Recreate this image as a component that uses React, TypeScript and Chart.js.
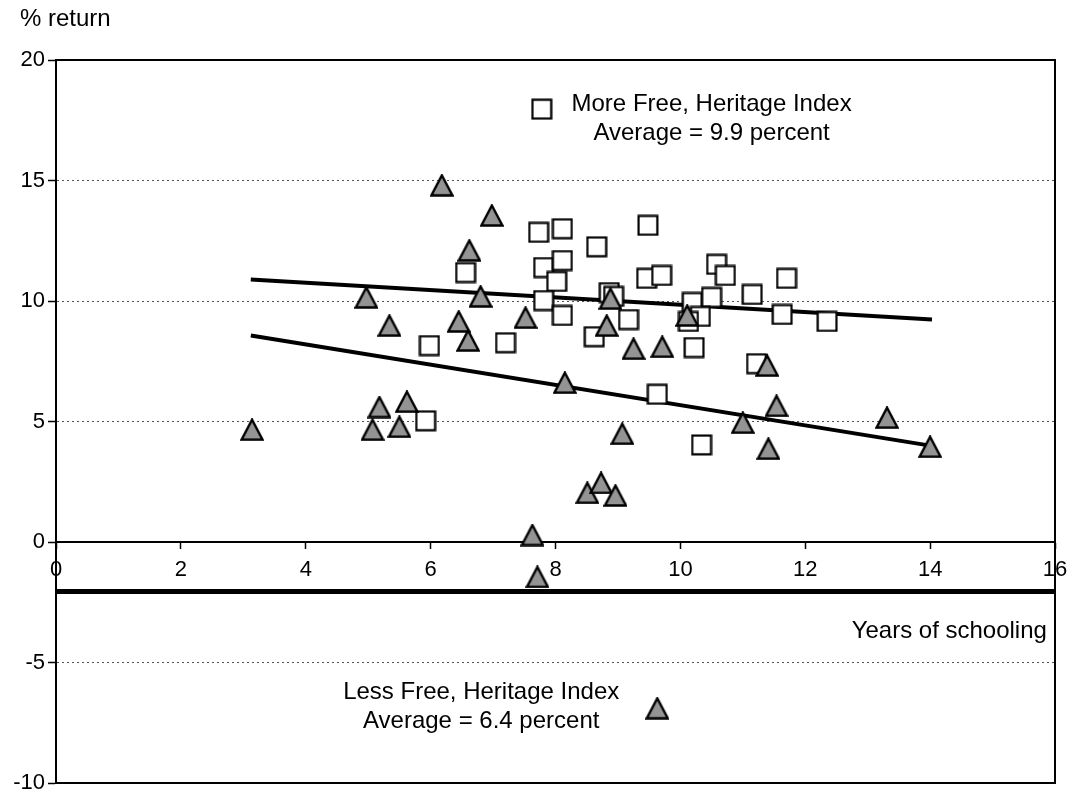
import React, { useEffect, useRef } from "react";
import { Chart, registerables } from "chart.js";

Chart.register(...registerables);

// ---- Data ----
const MORE_FREE_X = [7.73, 8.11, 8.66, 9.48, 6.56, 7.81, 8.11, 8.02, 9.46, 9.7, 7.81, 8.11, 8.86, 8.93, 9.17, 8.62, 7.2, 9.63, 10.19, 10.58, 10.72, 11.7, 10.5, 11.15, 10.32, 10.13, 11.63, 12.35, 10.22, 11.22, 10.34, 5.98, 5.92];
const MORE_FREE_Y = [12.85, 13.0, 12.25, 13.14, 11.18, 11.39, 11.68, 10.81, 10.94, 11.06, 10.02, 9.4, 10.35, 10.19, 9.23, 8.52, 8.27, 6.13, 9.94, 11.52, 11.06, 10.94, 10.15, 10.27, 9.36, 9.15, 9.44, 9.15, 8.07, 7.4, 4.03, 8.15, 5.03];

const LESS_FREE_X = [3.14, 4.97, 5.07, 5.18, 5.34, 5.5, 5.62, 6.18, 6.45, 6.6, 6.62, 6.8, 6.98, 7.52, 7.63, 7.71, 8.15, 8.51, 8.73, 8.82, 8.88, 8.96, 9.07, 9.25, 9.71, 10.11, 11.0, 11.39, 11.41, 11.54, 13.31, 14.0];
const LESS_FREE_Y = [4.66, 10.15, 4.66, 5.6, 8.98, 4.78, 5.82, 14.8, 9.15, 8.36, 12.1, 10.19, 13.55, 9.31, 0.29, -1.45, 6.61, 2.04, 2.45, 8.98, 10.1, 1.93, 4.49, 8.02, 8.1, 9.4, 4.95, 7.32, 3.87, 5.65, 5.16, 3.95];

const TREND_MORE_X = [3.12, 14.03];
const TREND_MORE_Y = [10.89, 9.23];
const TREND_LESS_X = [3.12, 14.0];
const TREND_LESS_Y = [8.57, 4.0];

const BASE_LINE_X = [0, 16];
const BASE_LINE_Y = [-2.05, -2.05];

const X_MIN = 0, X_MAX = 16, X_STEP = 2;
const Y_MIN = -10, Y_MAX = 20, Y_STEP = 5;
const Y_GRID_VALUES = [15, 10, 5, -5];

const MORE_LABEL = ["More Free, Heritage Index", "Average = 9.9 percent"];
const MORE_LABEL_AT = [10.5, 17.55];
const MORE_KEY_AT = [7.78, 17.96];
const LESS_LABEL = ["Less Free, Heritage Index", "Average = 6.4 percent"];
const LESS_LABEL_AT = [6.81, -6.85];
const LESS_KEY_AT = [9.63, -6.9];
const X_TITLE = "Years of schooling";
const X_TITLE_AT = [15.87, -3.69];
const Y_TITLE = "% return";

const FONT = "'Liberation Sans', Arial, Helvetica, sans-serif";

function zip(xs: number[], ys: number[]) {
  return xs.map((x, i) => ({ x, y: ys[i] }));
}

function makeTriangle(): HTMLCanvasElement {
  const c = document.createElement("canvas");
  c.width = 24;
  c.height = 23;
  const g = c.getContext("2d")!;
  g.beginPath();
  g.moveTo(12, 1.5);
  g.lineTo(22.5, 21.5);
  g.lineTo(1.5, 21.5);
  g.closePath();
  g.fillStyle = "#949494";
  g.fill();
  g.lineWidth = 2.4;
  g.strokeStyle = "#000";
  g.lineJoin = "miter";
  g.stroke();
  return c;
}

function makeSquare(): HTMLCanvasElement {
  const c = document.createElement("canvas");
  c.width = 22;
  c.height = 22;
  const g = c.getContext("2d")!;
  g.fillStyle = "#fff";
  g.fillRect(1, 1, 20, 20);
  g.lineWidth = 2.2;
  g.strokeStyle = "#000";
  g.strokeRect(1.6, 1.6, 18.8, 18.8);
  return c;
}

export default function App() {
  const ref = useRef<HTMLCanvasElement | null>(null);

  useEffect(() => {
    if (!ref.current) return;
    const tri = makeTriangle();
    const sq = makeSquare();

    const overlay = {
      id: "overlay",
      beforeDatasetsDraw(chart: any) {
        const { ctx, chartArea: a } = chart;
        ctx.save();
        ctx.strokeStyle = "#000";
        ctx.lineWidth = 2;
        ctx.beginPath();
        ctx.moveTo(a.left, a.top);
        ctx.lineTo(a.right, a.top);
        ctx.lineTo(a.right, a.bottom);
        ctx.lineTo(a.left, a.bottom);
        ctx.stroke();
        ctx.restore();
      },
      afterDatasetsDraw(chart: any) {
        const { ctx } = chart;
        const xs = chart.scales.x;
        const ys = chart.scales.y;
        ctx.save();
        ctx.fillStyle = "#000";
        ctx.font = `24px ${FONT}`;
        ctx.textAlign = "center";
        ctx.textBaseline = "middle";
        const drawLabel = (lines: string[], at: number[]) => {
          const cx = xs.getPixelForValue(at[0]);
          const cy = ys.getPixelForValue(at[1]);
          const lh = 29;
          lines.forEach((t, i) => {
            ctx.fillText(t, cx, cy + (i - (lines.length - 1) / 2) * lh);
          });
        };
        drawLabel(MORE_LABEL, MORE_LABEL_AT);
        drawLabel(LESS_LABEL, LESS_LABEL_AT);
        const drawKey = (img: HTMLCanvasElement, at: number[]) => {
          const px = xs.getPixelForValue(at[0]);
          const py = ys.getPixelForValue(at[1]);
          ctx.drawImage(img, px - img.width / 2, py - img.height / 2);
        };
        drawKey(sq, MORE_KEY_AT);
        drawKey(tri, LESS_KEY_AT);
        ctx.textAlign = "right";
        ctx.fillText(X_TITLE, xs.getPixelForValue(X_TITLE_AT[0]), ys.getPixelForValue(X_TITLE_AT[1]));
        ctx.textAlign = "left";
        ctx.fillText(Y_TITLE, 20, 19);
        ctx.restore();
      },
    };

    const chart = new Chart(ref.current, {
      type: "scatter",
      data: {
        datasets: [
          {
            label: "Less Free",
            data: zip(LESS_FREE_X, LESS_FREE_Y),
            pointStyle: tri as any,
            pointRadius: 11,
            pointHoverRadius: 11,
            order: 0,
          },
          {
            label: "More Free",
            data: zip(MORE_FREE_X, MORE_FREE_Y),
            pointStyle: sq as any,
            pointRadius: 11,
            pointHoverRadius: 11,
            order: 1,
          },
          {
            type: "line",
            label: "Trend more free",
            data: zip(TREND_MORE_X, TREND_MORE_Y),
            borderColor: "#000",
            borderWidth: 4,
            pointRadius: 0,
            fill: false,
            order: 2,
          } as any,
          {
            type: "line",
            label: "Trend less free",
            data: zip(TREND_LESS_X, TREND_LESS_Y),
            borderColor: "#000",
            borderWidth: 4,
            pointRadius: 0,
            fill: false,
            order: 3,
          } as any,
          {
            type: "line",
            label: "Base",
            data: zip(BASE_LINE_X, BASE_LINE_Y),
            borderColor: "#000",
            borderWidth: 5,
            pointRadius: 0,
            fill: false,
            order: 4,
          } as any,
        ],
      },
      options: {
        responsive: false,
        animation: false,
        devicePixelRatio: 1,
        layout: { padding: { top: 60, right: 18, bottom: 11, left: 0 } },
        plugins: {
          legend: { display: false },
          tooltip: { enabled: false },
          title: { display: false },
        },
        events: [],
        scales: {
          x: {
            type: "linear",
            position: { y: 0 } as any,
            min: X_MIN,
            max: X_MAX,
            afterFit: (s: any) => {
              s.paddingLeft = 0;
              s.paddingRight = 0;
            },
            ticks: {
              stepSize: X_STEP,
              color: "#000",
              padding: 9,
              font: { family: FONT, size: 22 },
            },
            grid: {
              drawOnChartArea: false,
              tickLength: 6,
              tickColor: "#000",
              tickWidth: 1.5,
            },
            border: { display: true, color: "#000", width: 2 },
          },
          y: {
            type: "linear",
            position: "left",
            min: Y_MIN,
            max: Y_MAX,
            afterFit: (s: any) => {
              s.width = 56;
              s.paddingTop = 0;
              s.paddingBottom = 0;
            },
            ticks: {
              stepSize: Y_STEP,
              color: "#000",
              padding: 3,
              font: { family: FONT, size: 22, lineHeight: 0.9 },
            },
            grid: {
              color: (c: any) =>
                c.tick && Y_GRID_VALUES.includes(c.tick.value) ? "#555" : "rgba(0,0,0,0)",
              lineWidth: 1,
              tickLength: 8,
              tickColor: "#000",
              tickWidth: 1.5,
            },
            border: { display: true, color: "#000", width: 2, dash: [2, 3] },
          },
        },
      },
      plugins: [overlay],
    });
    return () => chart.destroy();
  }, []);

  return (
    <div style={{ position: "fixed", left: 0, top: 0, width: 1073, height: 795, background: "#fff" }}>
      <canvas ref={ref} width={1073} height={795} style={{ display: "block" }} />
    </div>
  );
}
